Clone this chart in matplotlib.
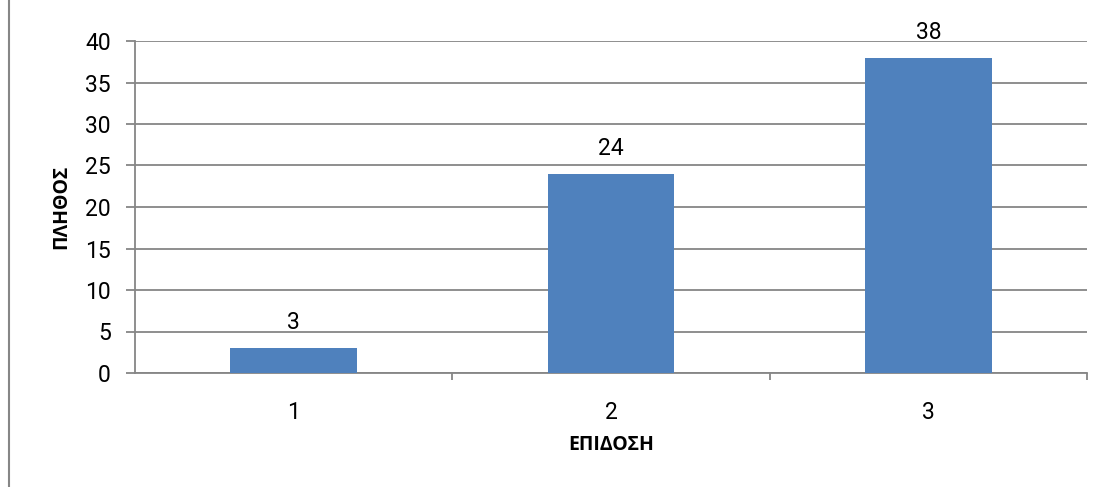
import numpy as np
import matplotlib.pyplot as plt
from matplotlib.lines import Line2D

categories = ["1", "2", "3"]
counts = [3, 24, 38]

plt.rcParams['font.family'] = ['Roboto', 'DejaVu Sans']

fig = plt.figure(figsize=(11.04, 4.87), dpi=100)
ax = fig.add_axes([135/1104, 1 - 373/487, (1087 - 135)/1104, (373 - 41)/487])

x = np.arange(len(categories))
ax.bar(x, counts, width=0.4, color='#4F81BD', zorder=3)
for xi, v in zip(x, counts):
    ax.annotate(str(v), (xi, v), xytext=(0, 10), textcoords='offset points',
                ha='center', va='bottom', fontsize=16.5)

ax.set_xlim(-0.5, 2.5)
ax.set_ylim(0, 40)
ax.set_yticks(range(0, 41, 5))
ax.yaxis.grid(True, color='#868686', linewidth=1.3, zorder=0)
ax.set_xticks(x)
ax.set_xticklabels(categories)
ax.set_xticks([0.5, 1.5, 2.5], minor=True)
ax.tick_params(axis='x', which='major', length=0, labelsize=16.5, pad=20)
ax.tick_params(axis='x', which='minor', length=5, color='#868686', width=1.3)
ax.tick_params(axis='y', length=6.5, color='#868686', width=1.3, labelsize=16.5, pad=11)

for s in ['top', 'right']:
    ax.spines[s].set_visible(False)
for s in ['left', 'bottom']:
    ax.spines[s].set_color('#868686')
    ax.spines[s].set_linewidth(1.3)

ax.set_xlabel('ΕΠΙΔΟΣΗ', fontsize=14, fontweight='bold', family=['Open Sans', 'DejaVu Sans'], labelpad=8)
ax.set_ylabel('ΠΛΗΘΟΣ', fontsize=14, fontweight='bold', family=['Open Sans', 'DejaVu Sans'], labelpad=10)

fig.add_artist(Line2D([9/1104, 9/1104], [0, 1], transform=fig.transFigure, color='#868686', linewidth=1.5))

fig.savefig('out.png', dpi=100)
